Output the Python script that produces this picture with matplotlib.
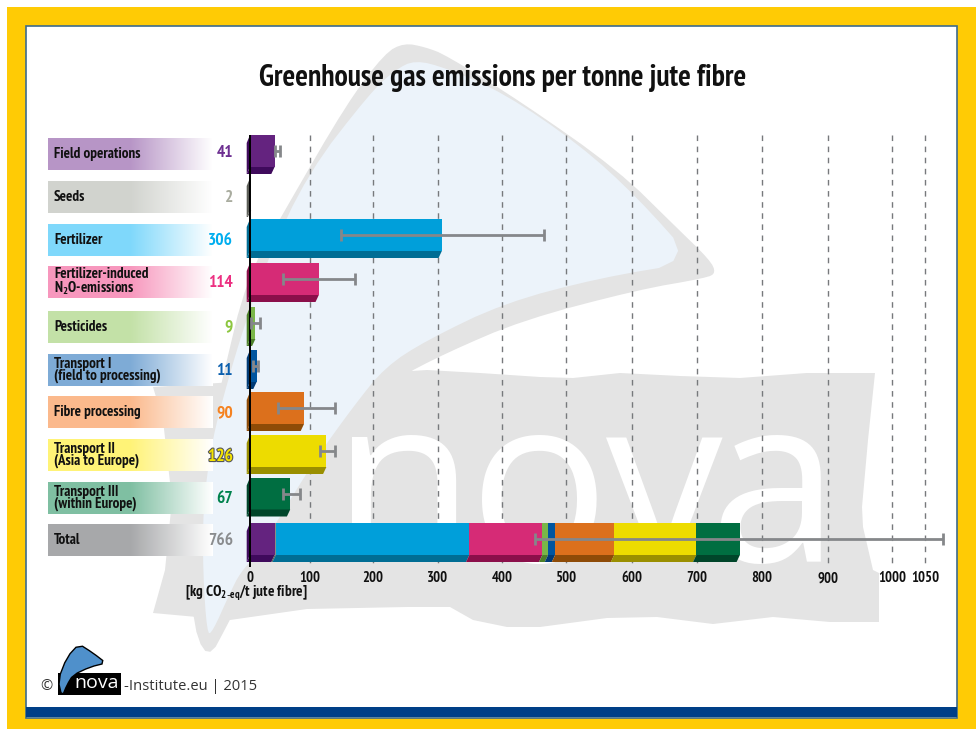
import matplotlib
matplotlib.use('Agg')
import matplotlib.pyplot as plt
import matplotlib.patheffects as pe
from matplotlib.colors import to_rgb
from matplotlib.patches import Polygon, Rectangle
import numpy as np

plt.rcParams['mathtext.default'] = 'regular'

categories = ['Field operations', 'Seeds', 'Fertilizer', 'Fertilizer-induced\nN$_2$O-emissions',
              'Pesticides', 'Transport I\n(field to processing)', 'Fibre processing',
              'Transport II\n(Asia to Europe)', 'Transport III\n(within Europe)']
values = [41, 2, 306, 114, 9, 11, 90, 126, 67]
total = 766
err_low = [41, None, 149, 55, 2, 5, 46, 116, 55]
err_high = [50, None, 465, 171, 17, 14, 140, 140, 83]
total_low = 452
total_high = 1077
ticks = [0, 100, 200, 300, 400, 500, 600, 700, 800, 900, 1000, 1050]

front_col = ['#64237f', '#8a8d84', '#009fda', '#d62b76', '#7ab648', '#00559f', '#dc701c', '#eddc00', '#006e41']
dark_col = ['#3f0a5c', '#5c5e57', '#006d94', '#8b0f4a', '#4c7f28', '#003a75', '#8e4b07', '#9a8f00', '#00452a']
num_col = ['#6d2f91', '#a9ac9f', '#00aeef', '#ec2f81', '#8cc63f', '#0b5fae', '#f58220', '#f5e400', '#00824d']
band_col = ['#b795c6', '#d1d3ce', '#7fd8fb', '#f797bd', '#c3e1a7', '#7eabd6', '#fbb98c', '#fff377', '#7fbfa2']

# layout in pixels of the picture
row_y = [151, 194, 235, 279, 323, 366, 408, 451, 493.5]
total_y = 539
band_y = [154, 197, 240, 282, 327, 370, 412, 455, 498]
total_band_y = 540
num_y = [153, 198, 241, 283, 327, 371, 413, 457, 499]
scale_val = [-50, 0, 100, 200, 300, 400, 500, 600, 700, 800, 900, 1000, 1050, 1150]
scale_px = [219.5, 250, 310, 373, 438, 502, 566, 632, 697, 762, 828, 892, 925, 991]

sail_out = [(404, 43), (425, 47), (446, 55), (523, 103), (618, 170), (676, 227), (710, 260), (716, 273), (706, 278),
            (637, 290), (523, 320), (446, 353), (394, 380), (350, 430), (300, 500), (255, 570), (230, 620), (207, 663),
            (190, 613), (195, 500), (222, 380), (247, 277), (285, 210), (347, 103), (385, 53)]
sail_in = [(415, 60), (446, 68), (504, 93), (580, 145), (637, 197), (695, 262), (599, 278), (504, 303), (427, 340),
           (385, 367), (353, 407), (317, 457), (290, 500), (258, 553), (240, 573), (230, 593), (212, 633), (207, 633),
           (203, 573), (203, 507), (212, 440), (228, 380), (243, 330), (266, 263), (308, 173), (370, 93), (395, 70)]
band = [(153, 387), (300, 378), (427, 370), (480, 373), (540, 377), (573, 378), (620, 373), (680, 376), (740, 378),
        (807, 373), (875, 373), (868, 440), (862, 507), (863, 527), (873, 570), (879, 573), (879, 622), (830, 622),
        (773, 617), (713, 624), (657, 617), (607, 618), (540, 627), (507, 627), (473, 620), (450, 607), (407, 607),
        (307, 609), (230, 620), (153, 613), (165, 570), (172, 500), (163, 420)]
small_sail = [(79, 644), (93, 653), (106, 663), (90, 667), (73, 675), (67, 685), (62, 697), (58, 680), (67, 657)]


def to_px(v):
    return np.interp(v, scale_val, scale_px)


def to_val(p):
    return np.interp(p, scale_px, scale_val)


def shift(v, dx):
    return to_val(to_px(v) + dx)


def smooth(pts, n=2):
    pts = np.array(pts, dtype=float)
    for _ in range(n):
        nxt = np.roll(pts, -1, axis=0)
        pts = np.column_stack([0.75 * pts + 0.25 * nxt, 0.25 * pts + 0.75 * nxt]).reshape(-1, 2)
    return pts


fig = plt.figure(figsize=(9.76, 7.29), dpi=100, facecolor='white')
bg = fig.add_axes([0, 0, 1, 1])
bg.axis('off')

narrow = ['PT Sans Narrow', 'Asap Condensed', 'DejaVu Sans']

# frame
bg.add_patch(Rectangle((7, 7), 969, 722, fc='#ffcb05', ec='none', zorder=0))
bg.add_patch(Rectangle((25.5, 25.5), 931.5, 692, fc='white', ec='#3d6b8c', lw=1.2, zorder=0.5))
bg.add_patch(Rectangle((26, 707), 931, 10, fc='#003f87', ec='none', zorder=0.6))

# big logo behind the chart
bg.add_patch(Polygon(smooth(sail_out), fc='#e4e4e4', ec='none', zorder=1))
bg.add_patch(Polygon(band, fc='#e4e4e4', ec='none', zorder=1))
bg.add_patch(Polygon(smooth(sail_in), fc='#ecf3fa', ec='none', zorder=1.1))
for letter, x in [('n', 404), ('o', 539), ('v', 664), ('a', 774)]:
    bg.text(x, 562, letter, color='white', fontsize=168, family='Open Sans', ha='center', va='baseline', zorder=1.2)

# label strips
names = categories + ['Total']
cols = band_col + ['#a7a8aa']
ys = band_y + [total_band_y]
for c, y, name in zip(cols, ys, names):
    rgb = np.array(to_rgb(c))
    t = np.clip((np.linspace(48, 213, 165) - 130) / 83, 0, 1)[None, :, None]
    img = rgb[None, None, :] * (1 - t) + t
    bg.imshow(img, extent=(48, 213, y + 16, y - 16), aspect='auto', zorder=2)
    bg.text(54, y, name, family=narrow, weight='bold', fontsize=10.8, va='center', ha='left',
            linespacing=0.85, color='#111111', zorder=3)

# bar totals
for v, y, c in zip(values, num_y, num_col):
    t = bg.text(233, y, str(v), color=c, family=narrow, weight='bold', fontsize=12.5, ha='right', va='center', zorder=3)
    if v == 126:
        t.set_path_effects([pe.withStroke(linewidth=1.6, foreground='#55555a')])
bg.text(233, 541, str(total), color='#8a8c8e', family=narrow, weight='bold', fontsize=12.5, ha='right', va='center', zorder=3)

bg.text(503, 78, 'Greenhouse gas emissions per tonne jute fibre', family=narrow, weight='bold',
        fontsize=21.3, ha='center', va='center', color='#111111', zorder=3)
bg.text(185, 593, '[kg CO$_{2\\text{-}eq}$/t jute fibre]', family=narrow, weight='bold', fontsize=11,
        ha='left', va='center', color='#111111', zorder=3)

# small logo and credit
bg.text(46, 686, '©', family='Open Sans', fontsize=10.5, ha='center', va='center', color='#333333', zorder=3)
bg.add_patch(Rectangle((58, 673), 63, 22, fc='black', ec='none', zorder=3))
bg.add_patch(Polygon(smooth(small_sail, 1), fc='#4f90cb', ec='black', lw=1, zorder=3.1))
bg.text(97, 683, 'nova', family='Open Sans', color='white', fontsize=14, ha='center', va='center', zorder=3.2)
bg.text(124, 686, '-Institute.eu | 2015', family='Open Sans', fontsize=10.6, ha='left', va='center', color='#333333', zorder=3)

bg.set_xlim(0, 976)
bg.set_ylim(729, 0)

# chart, x axis is uneven in the source so it goes through to_px
left, right, top, bottom = 240, 960, 130, 570
ax = fig.add_axes([left / 976, 1 - bottom / 729, (right - left) / 976, (bottom - top) / 729], zorder=2)
ax.patch.set_visible(False)
ax.set_xscale('function', functions=(to_px, to_val))
ax.set_xlim(to_val(left), to_val(right))
ax.set_ylim(bottom, top)
for s in ax.spines.values():
    s.set_visible(False)
ax.set_yticks([])
ax.set_xticks(ticks)
ax.set_xticks([], minor=True)
ax.set_xticklabels([str(t) for t in ticks], family=narrow, weight='bold', fontsize=10.5, color='#111111', va='baseline')
ax.tick_params(axis='x', length=0, pad=9)

ax.vlines(ticks[1:], 135, 567, color='#77797c', lw=1, linestyles=(0, (4, 4)), zorder=1)


def draw_face(v0, v1, y, c_front, c_dark, h=32):
    ax.barh(y, v1 - v0, left=v0, height=h, color=c_front, edgecolor='none', zorder=3)
    low = y + h / 2
    ax.add_patch(Polygon([(v0, low), (v1, low), (shift(v1, -3.3), low + 7), (shift(v0, -3.3), low + 7)],
                         fc=c_dark, ec='none', zorder=3))


for v, y, c, d in zip(values, row_y, front_col, dark_col):
    draw_face(0, v, y, c, d)
    ax.add_patch(Polygon([(0, y - 16), (0, y + 16), (shift(0, -3.3), y + 23), (shift(0, -3.3), y - 8)],
                         fc=d, ec='none', zorder=3))

cum = np.cumsum([0] + values)
for i, (c, d) in enumerate(zip(front_col, dark_col)):
    draw_face(cum[i], cum[i + 1], total_y, c, d)
ax.add_patch(Polygon([(0, total_y - 16), (0, total_y + 16), (shift(0, -3.3), total_y + 23), (shift(0, -3.3), total_y - 8)],
                     fc=dark_col[0], ec='none', zorder=3))

ax.vlines(0, 135, 567, color='black', lw=1.4, zorder=4)

for v, y, lo, hi in zip(values, row_y, err_low, err_high):
    if lo is None:
        continue
    ax.errorbar(v, y, xerr=[[v - lo], [hi - v]], color='#85878a', elinewidth=2, capsize=4, capthick=2, zorder=5)
ax.errorbar(total, total_y, xerr=[[total - total_low], [total_high - total]], color='#85878a', elinewidth=2,
            capsize=4, capthick=2, zorder=5)

fig.savefig('out.png', dpi=100)
